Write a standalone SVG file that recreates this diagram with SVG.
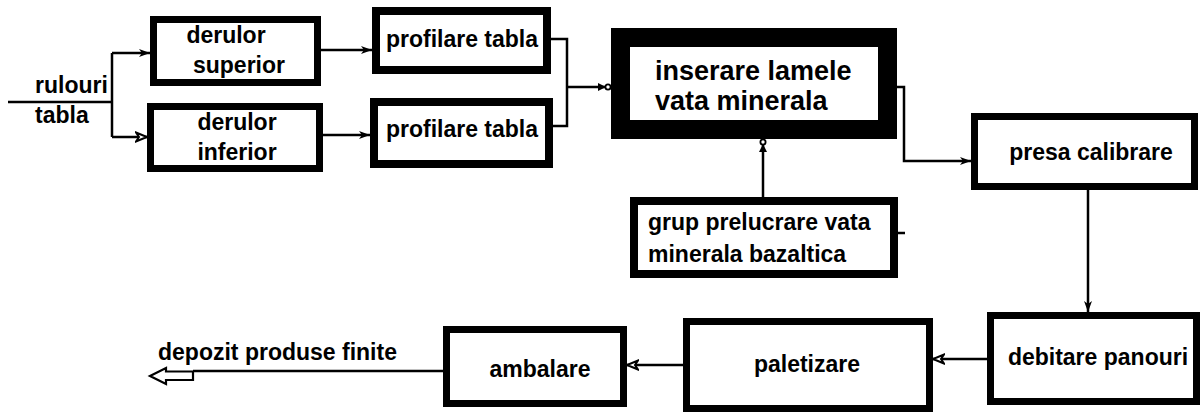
<svg xmlns="http://www.w3.org/2000/svg" width="1203" height="412" viewBox="0 0 1203 412">
<style>
.box{fill:#fff;stroke:#000;stroke-width:7}
.b8{stroke-width:8}
.heavy{stroke-width:19}
.t{font-family:"Liberation Sans",Arial,sans-serif;font-weight:bold;font-size:23px;fill:#000}
.big{font-size:27px}
.ln{fill:none;stroke:#000;stroke-width:2.5}
</style>
<defs>
<marker id="af" markerUnits="userSpaceOnUse" markerWidth="12" markerHeight="10" refX="11" refY="5" orient="auto">
<path d="M0,1 L11,5 L0,9 L3,5 z" fill="#000"/>
</marker>
<marker id="ah" markerUnits="userSpaceOnUse" markerWidth="14" markerHeight="12" refX="12" refY="6" orient="auto">
<path d="M1,1.5 L12,6 L1,10.5 L4,6 z" fill="#fff" stroke="#000" stroke-width="2"/>
</marker>
<marker id="ac" markerUnits="userSpaceOnUse" markerWidth="14" markerHeight="12" refX="13" refY="6" orient="auto">
<path d="M0,2 L8,6 L0,10 z" fill="#000"/>
<circle cx="10" cy="6" r="2.6" fill="#fff" stroke="#000" stroke-width="1.8"/>
</marker>
</defs>

<g id="connectors">
<path class="ln" d="M8,102 H112"/>
<path class="ln" d="M112,53 V137"/>
<path class="ln" d="M112,53 H150" marker-end="url(#af)"/>
<path class="ln" d="M112,137 H147" marker-end="url(#ah)"/>
<path class="ln" d="M321,50 H372" marker-end="url(#af)"/>
<path class="ln" d="M323,135 H370" marker-end="url(#af)"/>
<path class="ln" d="M551,39 H567 V126 H553"/>
<path class="ln" d="M567,87 H611" marker-end="url(#ac)"/>
<path class="ln" d="M763,197 V139" marker-end="url(#ac)"/>
<path class="ln" d="M897,87 H904 V161 H971" marker-end="url(#af)"/>
<path class="ln" d="M1088,190 V312" marker-end="url(#af)"/>
<path class="ln" d="M987,359 H933" marker-end="url(#ah)"/>
<path class="ln" d="M683,365 H627" marker-end="url(#ah)"/>
<path class="ln" d="M443,371 H193"/>
<path d="M150,376 L166,368 L166,371.5 L193,371.5 L193,380 L166,380 L166,384 z" fill="#fff" stroke="#000" stroke-width="2.2"/>
<path class="ln" d="M898,233 H905"/>
</g>

<g id="n-rulouri">
<text class="t" x="35" y="93" font-size="22">rulouri</text>
<text class="t" x="35" y="123" font-size="22">tabla</text>
</g>

<g id="n-derulor-superior">
<rect class="box" x="153.5" y="19.5" width="164" height="63"/>
<text class="t" x="226" y="43" text-anchor="middle">derulor</text>
<text class="t" x="239" y="73" text-anchor="middle">superior</text>
</g>

<g id="n-derulor-inferior">
<rect class="box" x="150.5" y="106.5" width="169" height="62"/>
<text class="t" x="237" y="130" text-anchor="middle">derulor</text>
<text class="t" x="237" y="160" text-anchor="middle">inferior</text>
</g>

<g id="n-profilare-1">
<rect class="box b8" x="376" y="11" width="171" height="59"/>
<text class="t" x="462" y="47" text-anchor="middle">profilare tabla</text>
</g>

<g id="n-profilare-2">
<rect class="box b8" x="374" y="102" width="175" height="62"/>
<text class="t" x="462" y="137" text-anchor="middle">profilare tabla</text>
</g>

<g id="n-inserare">
<rect class="box heavy" x="620.5" y="37.5" width="267" height="92"/>
<text class="t big" x="655" y="80">inserare lamele</text>
<text class="t big" x="655" y="110">vata minerala</text>
</g>

<g id="n-grup">
<rect class="box b8" x="634" y="201" width="260" height="73"/>
<text class="t" x="648" y="230">grup prelucrare vata</text>
<text class="t" x="648" y="262">minerala bazaltica</text>
</g>

<g id="n-presa">
<rect class="box" x="974.5" y="116.5" width="220" height="70"/>
<text class="t" x="1091" y="160" text-anchor="middle">presa calibrare</text>
</g>

<g id="n-debitare">
<rect class="box" x="990.5" y="315.5" width="206" height="86"/>
<text class="t" x="1098" y="365" text-anchor="middle">debitare panouri</text>
</g>

<g id="n-paletizare">
<rect class="box" x="686.5" y="321.5" width="243" height="87"/>
<text class="t" x="807" y="372" text-anchor="middle">paletizare</text>
</g>

<g id="n-ambalare">
<rect class="box" x="446.5" y="329.5" width="177" height="74"/>
<text class="t" x="540" y="377" text-anchor="middle">ambalare</text>
</g>

<g id="n-depozit">
<text class="t" x="158" y="360">depozit produse finite</text>
</g>
</svg>
